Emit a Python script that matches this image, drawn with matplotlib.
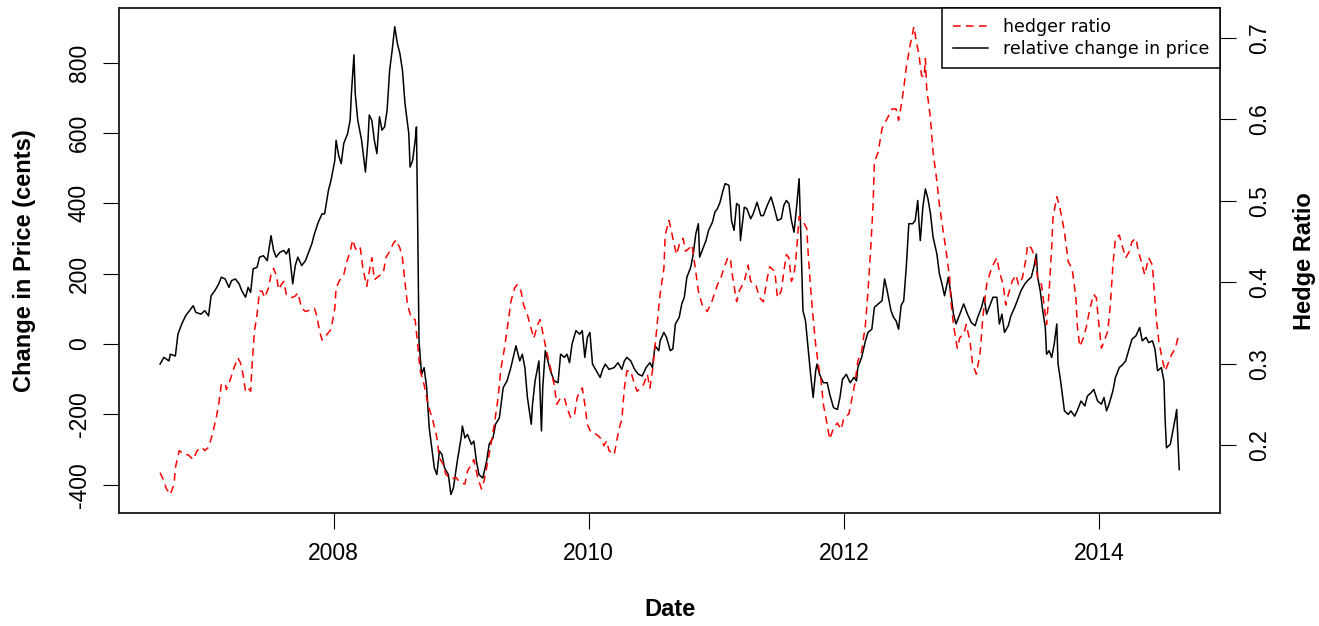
import matplotlib
matplotlib.use("Agg")
import matplotlib.pyplot as plt
from matplotlib.lines import Line2D

plt.rcParams['axes.unicode_minus'] = False

# relative change in price (cents)
price_year = [
    2006.64, 2006.67, 2006.71, 2006.72, 2006.76, 2006.78, 2006.81, 2006.84, 2006.88, 2006.90,
    2006.92, 2006.96, 2006.99, 2007.02, 2007.04, 2007.07, 2007.10, 2007.12, 2007.15, 2007.18,
    2007.20, 2007.23, 2007.26, 2007.28, 2007.31, 2007.33, 2007.35, 2007.37, 2007.40, 2007.42,
    2007.45, 2007.48, 2007.51, 2007.53, 2007.55, 2007.58, 2007.61, 2007.63, 2007.65, 2007.66,
    2007.68, 2007.70, 2007.72, 2007.75, 2007.78, 2007.80, 2007.83, 2007.85, 2007.88, 2007.91,
    2007.93, 2007.96, 2007.98, 2008.01, 2008.02, 2008.04, 2008.06, 2008.08, 2008.11, 2008.13,
    2008.14, 2008.16, 2008.17, 2008.19, 2008.22, 2008.25, 2008.27, 2008.28, 2008.30, 2008.32,
    2008.34, 2008.36, 2008.38, 2008.40, 2008.42, 2008.44, 2008.46, 2008.48, 2008.50, 2008.52,
    2008.54, 2008.56, 2008.59, 2008.60, 2008.62, 2008.64, 2008.65, 2008.66, 2008.67, 2008.69,
    2008.71, 2008.73, 2008.75, 2008.77, 2008.79, 2008.81, 2008.83, 2008.85, 2008.87, 2008.90,
    2008.92, 2008.94, 2008.97, 2009.00, 2009.01, 2009.03, 2009.05, 2009.08, 2009.10, 2009.12,
    2009.14, 2009.17, 2009.20, 2009.22, 2009.25, 2009.27, 2009.30, 2009.33, 2009.36, 2009.39,
    2009.43, 2009.46, 2009.48, 2009.50, 2009.52, 2009.55, 2009.56, 2009.58, 2009.60, 2009.61,
    2009.63, 2009.64, 2009.66, 2009.68, 2009.70, 2009.73, 2009.76, 2009.78, 2009.81, 2009.83,
    2009.85, 2009.87, 2009.90, 2009.93, 2009.95, 2009.97, 2009.99, 2010.01, 2010.03, 2010.06,
    2010.09, 2010.11, 2010.13, 2010.16, 2010.20, 2010.23, 2010.26, 2010.28, 2010.30, 2010.33,
    2010.36, 2010.39, 2010.42, 2010.45, 2010.48, 2010.50, 2010.52, 2010.55, 2010.56, 2010.59,
    2010.61, 2010.64, 2010.66, 2010.68, 2010.71, 2010.73, 2010.75, 2010.77, 2010.80, 2010.82,
    2010.84, 2010.86, 2010.87, 2010.89, 2010.92, 2010.94, 2010.97, 2010.99, 2011.01, 2011.03,
    2011.05, 2011.07, 2011.10, 2011.12, 2011.14, 2011.16, 2011.18, 2011.19, 2011.22, 2011.24,
    2011.27, 2011.29, 2011.32, 2011.35, 2011.37, 2011.40, 2011.43, 2011.46, 2011.48, 2011.51,
    2011.53, 2011.55, 2011.57, 2011.59, 2011.61, 2011.63, 2011.65, 2011.66, 2011.68, 2011.70,
    2011.72, 2011.74, 2011.76, 2011.78, 2011.79, 2011.81, 2011.84, 2011.87, 2011.89, 2011.92,
    2011.95, 2011.97, 2011.99, 2012.02, 2012.05, 2012.08, 2012.10, 2012.11, 2012.14, 2012.17,
    2012.19, 2012.22, 2012.24, 2012.27, 2012.30, 2012.32, 2012.34, 2012.37, 2012.39, 2012.41,
    2012.43, 2012.45, 2012.47, 2012.49, 2012.51, 2012.54, 2012.56, 2012.58, 2012.59, 2012.60,
    2012.62, 2012.64, 2012.66, 2012.68, 2012.70, 2012.73, 2012.75, 2012.77, 2012.79, 2012.82,
    2012.84, 2012.86, 2012.88, 2012.91, 2012.94, 2012.97, 2013.00, 2013.03, 2013.05, 2013.08,
    2013.10, 2013.12, 2013.14, 2013.17, 2013.20, 2013.22, 2013.24, 2013.26, 2013.29, 2013.31,
    2013.34, 2013.37, 2013.39, 2013.42, 2013.44, 2013.47, 2013.49, 2013.51, 2013.52, 2013.54,
    2013.56, 2013.58, 2013.59, 2013.61, 2013.63, 2013.65, 2013.67, 2013.68, 2013.70, 2013.73,
    2013.76, 2013.78, 2013.81, 2013.83, 2013.86, 2013.89, 2013.91, 2013.94, 2013.96, 2013.99,
    2014.02, 2014.04, 2014.06, 2014.08, 2014.11, 2014.13, 2014.16, 2014.19, 2014.21, 2014.24,
    2014.26, 2014.29, 2014.32, 2014.34, 2014.37, 2014.39, 2014.42, 2014.44, 2014.46, 2014.49,
    2014.51, 2014.52, 2014.53, 2014.56, 2014.58, 2014.60, 2014.61, 2014.62, 2014.63,
]
price_change = [
    -57, -38, -48, -29, -34, 28, 57, 80, 99, 109,
    90, 85, 95, 80, 137, 152, 171, 190, 185, 161,
    180, 185, 171, 152, 133, 161, 147, 214, 218, 247,
    251, 237, 308, 266, 247, 261, 266, 256, 271, 237,
    171, 223, 247, 223, 237, 256, 285, 313, 346, 370,
    370, 437, 465, 522, 579, 536, 513, 570, 598, 636,
    712, 822, 712, 636, 579, 489, 579, 651, 636, 579,
    541, 646, 608, 617, 665, 779, 836, 902, 855, 826,
    779, 684, 598, 503, 522, 579, 617, 332, 9, -86,
    -67, -124, -238, -295, -352, -371, -304, -314, -352, -371,
    -428, -409, -333, -267, -233, -267, -257, -285, -276, -333,
    -371, -381, -333, -285, -267, -228, -210, -124, -105, -67,
    -5, -48, -29, -67, -152, -228, -171, -105, -67, -48,
    -247, -124, -19, -48, -76, -105, -110, -29, -38, -29,
    -53, 0, 38, 28, 38, -38, 19, 33, -57, -76,
    -95, -72, -57, -72, -67, -53, -72, -48, -38, -48,
    -72, -86, -91, -67, -53, -67, -5, -19, 9, 33,
    19, -19, -14, 57, 76, 114, 133, 190, 218, 256,
    313, 342, 247, 266, 294, 323, 346, 375, 385, 403,
    432, 456, 451, 351, 323, 399, 394, 294, 389, 385,
    356, 370, 403, 365, 365, 394, 418, 380, 351, 356,
    394, 408, 399, 351, 318, 389, 470, 351, 95, 66,
    -10, -86, -152, -76, -57, -86, -110, -110, -143, -181,
    -186, -152, -100, -86, -110, -95, -105, -67, -38, 9,
    33, 42, 104, 114, 123, 185, 152, 95, 76, 66,
    42, 110, 123, 218, 342, 342, 351, 408, 342, 294,
    389, 441, 413, 370, 304, 256, 199, 171, 137, 190,
    142, 85, 57, 85, 114, 85, 61, 52, 76, 104,
    133, 85, 104, 133, 133, 57, 85, 33, 52, 80,
    104, 133, 152, 171, 180, 190, 218, 256, 190, 152,
    95, 47, -29, -19, -38, 0, 57, -57, -105, -190,
    -200, -190, -205, -190, -162, -176, -148, -138, -129, -162,
    -171, -152, -190, -171, -133, -95, -67, -57, -48, -10,
    14, 23, 47, 9, 19, 4, 9, -15, -76, -67,
    -105, -219, -295, -285, -247, -209, -186, -276, -357,
]

# hedge ratio
ratio_year = [
    2006.64, 2006.67, 2006.69, 2006.72, 2006.75, 2006.76, 2006.79, 2006.83, 2006.86, 2006.90,
    2006.93, 2006.97, 2006.99, 2007.02, 2007.05, 2007.08, 2007.10, 2007.12, 2007.15, 2007.16,
    2007.19, 2007.22, 2007.25, 2007.27, 2007.29, 2007.31, 2007.33, 2007.35, 2007.36, 2007.38,
    2007.40, 2007.42, 2007.44, 2007.46, 2007.49, 2007.51, 2007.53, 2007.55, 2007.57, 2007.59,
    2007.61, 2007.63, 2007.67, 2007.70, 2007.72, 2007.75, 2007.78, 2007.82, 2007.85, 2007.87,
    2007.89, 2007.91, 2007.95, 2007.98, 2008.01, 2008.02, 2008.05, 2008.08, 2008.10, 2008.13,
    2008.15, 2008.17, 2008.19, 2008.21, 2008.23, 2008.26, 2008.28, 2008.30, 2008.32, 2008.35,
    2008.39, 2008.41, 2008.44, 2008.47, 2008.49, 2008.52, 2008.54, 2008.56, 2008.58, 2008.61,
    2008.64, 2008.66, 2008.68, 2008.71, 2008.74, 2008.78, 2008.81, 2008.83, 2008.86, 2008.88,
    2008.92, 2008.96, 2008.99, 2009.03, 2009.05, 2009.08, 2009.10, 2009.13, 2009.16, 2009.18,
    2009.20, 2009.23, 2009.26, 2009.29, 2009.31, 2009.34, 2009.37, 2009.39, 2009.42, 2009.44,
    2009.47, 2009.49, 2009.52, 2009.54, 2009.57, 2009.60, 2009.62, 2009.65, 2009.67, 2009.70,
    2009.73, 2009.75, 2009.78, 2009.81, 2009.83, 2009.86, 2009.89, 2009.91, 2009.93, 2009.95,
    2009.97, 2009.99, 2010.02, 2010.06, 2010.09, 2010.12, 2010.14, 2010.16, 2010.20, 2010.22,
    2010.24, 2010.26, 2010.28, 2010.30, 2010.33, 2010.36, 2010.38, 2010.41, 2010.43, 2010.46,
    2010.48, 2010.50, 2010.52, 2010.55, 2010.56, 2010.59, 2010.60, 2010.63, 2010.65, 2010.67,
    2010.69, 2010.71, 2010.74, 2010.76, 2010.79, 2010.81, 2010.84, 2010.86, 2010.89, 2010.93,
    2010.97, 2011.01, 2011.04, 2011.06, 2011.09, 2011.11, 2011.13, 2011.16, 2011.18, 2011.22,
    2011.25, 2011.27, 2011.31, 2011.34, 2011.37, 2011.40, 2011.42, 2011.46, 2011.48, 2011.51,
    2011.53, 2011.55, 2011.57, 2011.59, 2011.61, 2011.63, 2011.65, 2011.68, 2011.71, 2011.72,
    2011.74, 2011.76, 2011.78, 2011.80, 2011.82, 2011.84, 2011.87, 2011.89, 2011.92, 2011.95,
    2011.98, 2012.00, 2012.04, 2012.06, 2012.09, 2012.11, 2012.14, 2012.17, 2012.19, 2012.21,
    2012.23, 2012.24, 2012.27, 2012.30, 2012.34, 2012.38, 2012.41, 2012.43, 2012.45, 2012.47,
    2012.49, 2012.52, 2012.55, 2012.57, 2012.59, 2012.61, 2012.63, 2012.64, 2012.65, 2012.68,
    2012.70, 2012.73, 2012.75, 2012.78, 2012.81, 2012.83, 2012.84, 2012.86, 2012.89, 2012.91,
    2012.94, 2012.96, 2012.99, 2013.01, 2013.04, 2013.07, 2013.09, 2013.12, 2013.15, 2013.17,
    2013.20, 2013.22, 2013.25, 2013.27, 2013.29, 2013.32, 2013.35, 2013.37, 2013.40, 2013.43,
    2013.44, 2013.47, 2013.50, 2013.52, 2013.55, 2013.57, 2013.59, 2013.61, 2013.63, 2013.64,
    2013.67, 2013.69, 2013.71, 2013.73, 2013.76, 2013.79, 2013.82, 2013.83, 2013.85, 2013.88,
    2013.90, 2013.93, 2013.96, 2013.98, 2014.00, 2014.02, 2014.04, 2014.07, 2014.09, 2014.11,
    2014.13, 2014.16, 2014.18, 2014.21, 2014.24, 2014.26, 2014.29, 2014.31, 2014.34, 2014.36,
    2014.39, 2014.42, 2014.43, 2014.45, 2014.47, 2014.50, 2014.52, 2014.55, 2014.57, 2014.60,
    2014.62,
]
hedge_ratio = [
    0.166, 0.156, 0.146, 0.139, 0.152, 0.172, 0.193, 0.188, 0.188, 0.182,
    0.193, 0.197, 0.193, 0.197, 0.213, 0.233, 0.250, 0.274, 0.276, 0.268,
    0.280, 0.295, 0.307, 0.301, 0.287, 0.266, 0.270, 0.266, 0.295, 0.340,
    0.360, 0.389, 0.389, 0.381, 0.393, 0.409, 0.417, 0.409, 0.391, 0.397,
    0.401, 0.385, 0.381, 0.383, 0.387, 0.368, 0.364, 0.366, 0.368, 0.358,
    0.340, 0.329, 0.336, 0.342, 0.368, 0.393, 0.403, 0.409, 0.423, 0.438,
    0.452, 0.442, 0.438, 0.442, 0.417, 0.395, 0.413, 0.430, 0.403, 0.407,
    0.411, 0.430, 0.438, 0.448, 0.452, 0.442, 0.430, 0.400, 0.372, 0.356,
    0.354, 0.323, 0.291, 0.274, 0.250, 0.229, 0.209, 0.184, 0.176, 0.164,
    0.158, 0.160, 0.154, 0.152, 0.168, 0.176, 0.182, 0.160, 0.146, 0.156,
    0.172, 0.197, 0.225, 0.258, 0.291, 0.319, 0.352, 0.376, 0.393, 0.397,
    0.389, 0.372, 0.360, 0.348, 0.331, 0.348, 0.354, 0.331, 0.315, 0.295,
    0.274, 0.250, 0.258, 0.258, 0.246, 0.233, 0.238, 0.258, 0.266, 0.270,
    0.250, 0.225, 0.215, 0.213, 0.209, 0.199, 0.205, 0.193, 0.188, 0.205,
    0.221, 0.231, 0.270, 0.291, 0.291, 0.274, 0.266, 0.270, 0.274, 0.287,
    0.270, 0.291, 0.320, 0.370, 0.385, 0.417, 0.458, 0.476, 0.462, 0.446,
    0.434, 0.446, 0.454, 0.438, 0.442, 0.446, 0.413, 0.389, 0.372, 0.364,
    0.378, 0.397, 0.407, 0.417, 0.430, 0.430, 0.405, 0.376, 0.389, 0.401,
    0.421, 0.401, 0.397, 0.381, 0.376, 0.405, 0.419, 0.413, 0.381, 0.389,
    0.413, 0.434, 0.430, 0.401, 0.409, 0.438, 0.481, 0.475, 0.466, 0.438,
    0.393, 0.356, 0.323, 0.299, 0.282, 0.250, 0.225, 0.207, 0.221, 0.227,
    0.219, 0.233, 0.238, 0.254, 0.278, 0.303, 0.315, 0.348, 0.389, 0.438,
    0.495, 0.548, 0.560, 0.589, 0.601, 0.613, 0.613, 0.599, 0.617, 0.638,
    0.664, 0.691, 0.714, 0.695, 0.679, 0.654, 0.652, 0.675, 0.638, 0.601,
    0.560, 0.524, 0.495, 0.462, 0.430, 0.405, 0.376, 0.348, 0.319, 0.332,
    0.336, 0.348, 0.327, 0.299, 0.287, 0.315, 0.356, 0.397, 0.413, 0.421,
    0.430, 0.413, 0.397, 0.372, 0.385, 0.401, 0.409, 0.397, 0.405, 0.430,
    0.446, 0.442, 0.430, 0.405, 0.397, 0.372, 0.348, 0.389, 0.442, 0.479,
    0.505, 0.495, 0.479, 0.462, 0.425, 0.417, 0.381, 0.348, 0.321, 0.332,
    0.344, 0.368, 0.385, 0.381, 0.348, 0.319, 0.327, 0.340, 0.372, 0.421,
    0.454, 0.458, 0.446, 0.430, 0.438, 0.450, 0.454, 0.438, 0.421, 0.409,
    0.430, 0.421, 0.397, 0.356, 0.327, 0.303, 0.291, 0.303, 0.311, 0.319,
    0.332,
]

year_ticks = [2008, 2010, 2012, 2014]
price_ticks = [-400, -200, 0, 200, 400, 600, 800]
ratio_ticks = [0.2, 0.3, 0.4, 0.5, 0.6, 0.7]

FONT = 'Liberation Sans'


def padded(v):
    # R style axis range: data range plus 4% on each side
    lo, hi = min(v), max(v)
    d = (hi - lo) * 0.04
    return lo - d, hi + d


W, H = 1319, 626
fig = plt.figure(figsize=(W / 100, H / 100), dpi=100)
L, R, T, B = 119.3, 1220, 8, 513.3
ax = fig.add_axes([L / W, 1 - B / H, (R - L) / W, (B - T) / H])

ax.plot(price_year, price_change, color='black', lw=1.1)
ax.set_xlim(padded(price_year + ratio_year))
ax.set_ylim(padded(price_change))

ax2 = ax.twinx()
ax2.plot(ratio_year, hedge_ratio, color='red', lw=1.1, ls=(0, (5, 3.5)))
ax2.set_ylim(padded(hedge_ratio))

ax.set_xticks(year_ticks)
ax.set_xticklabels([str(y) for y in year_ticks], family=FONT, fontsize=16.5)
ax.set_yticks(price_ticks)
ax.set_yticklabels([str(p) for p in price_ticks], family=FONT, fontsize=16.5,
                   rotation=90, va='center')
ax2.set_yticks(ratio_ticks)
ax2.set_yticklabels([f'{r:.1f}' for r in ratio_ticks], family=FONT, fontsize=16.5,
                    rotation=90, va='center')

for a in (ax, ax2):
    a.tick_params(direction='out', length=11.5, width=0.8, color='black', pad=9)
    for s in a.spines.values():
        s.set_linewidth(1.1)
        s.set_color('#222222')

ax.set_xlabel('Date', family=FONT, fontsize=17, fontweight='bold')
ax.xaxis.set_label_coords(0.5, -(610 - B) / (B - T))
ax.xaxis.label.set_va('center')
ax.set_ylabel('Change in Price (cents)', family=FONT, fontsize=17, fontweight='bold')
ax.yaxis.set_label_coords(-(L - 25) / (R - L), 0.5)
ax.yaxis.label.set_va('center')
ax2.set_ylabel('Hedge Ratio', family=FONT, fontsize=17, fontweight='bold')
ax2.yaxis.set_label_coords(1 + (1304 - R) / (R - L), 0.5)
ax2.yaxis.label.set_va('center')

handles = [Line2D([], [], color='red', lw=1.1, ls=(0, (5, 3.5))),
           Line2D([], [], color='black', lw=1.1)]
leg = ax2.legend(handles, ['hedger ratio', 'relative change in price'],
                 loc='upper right', bbox_to_anchor=(1, 1), borderaxespad=0,
                 fancybox=False, framealpha=1, edgecolor='black',
                 prop={'family': 'DejaVu Sans', 'size': 12.5},
                 handlelength=2.0, handletextpad=0.9, borderpad=0.6,
                 labelspacing=0.2)
leg.get_frame().set_linewidth(1.1)

fig.savefig('out.png', dpi=100)
